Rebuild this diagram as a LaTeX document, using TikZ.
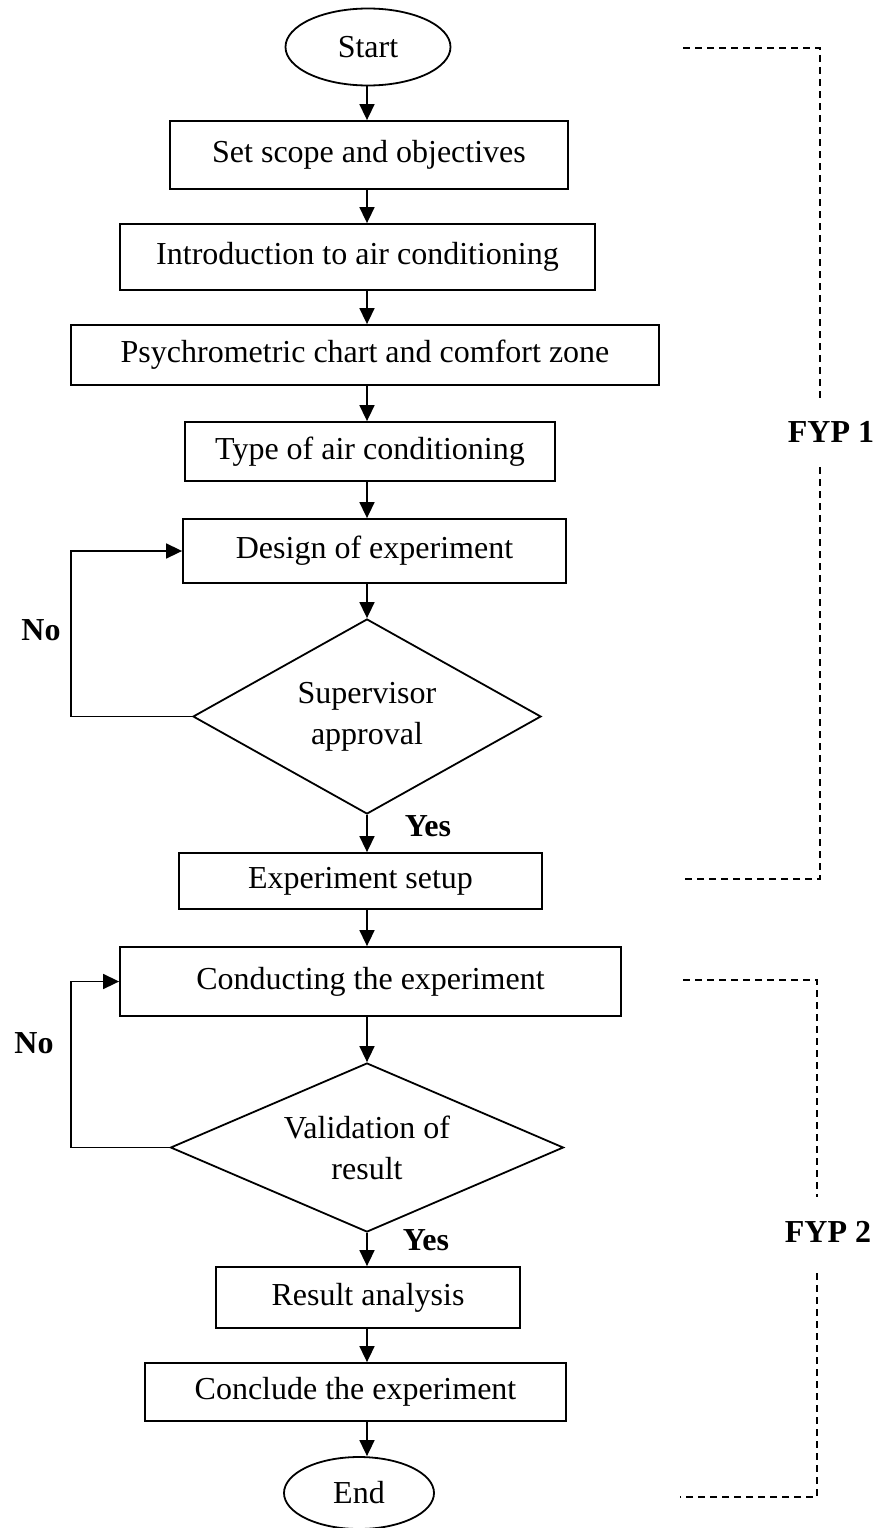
\documentclass[tikz,border=0pt]{standalone}
\usepackage{fontspec}
\setmainfont{Liberation Serif}
\usetikzlibrary{shapes.geometric,arrows.meta,calc}
\tikzset{
  txt/.style={font=\fontsize{32}{41}\selectfont, inner sep=0pt},
  box/.style={txt, draw, line width=1.8pt, rectangle, align=center},
  term/.style={txt, draw, line width=1.8pt, ellipse},
  decision/.style={txt, draw, line width=1.8pt, diamond, aspect=1.78, align=center},
  arr/.style={line width=1.6pt, -{Triangle[length=16pt,width=15pt]}},
  loopline/.style={line width=1.6pt, -{Triangle[length=16pt,width=15pt]}},
  lbl/.style={font=\fontsize{32}{41}\selectfont\bfseries, inner sep=0pt},
  bracket/.style={line width=1.5pt, dash pattern=on 7pt off 5pt}
}
\begin{document}
\begin{tikzpicture}[x=1pt,y=-1pt]
\useasboundingbox (0,0) rectangle (878,1528);
\fill[white] (0,0) rectangle (878,1528);
\coordinate (spine) at (367,0);
% nodes
\node[term, minimum width=165pt, minimum height=77pt] (start) at (368,47) {Start};
\node[box, minimum width=398pt, minimum height=68pt] (b1) at (369,155) {Set scope and objectives};
\node[box, minimum width=475pt, minimum height=66pt] (b2) at (357.5,257) {Introduction to air conditioning};
\node[box, minimum width=588pt, minimum height=60pt] (b3) at (365,355) {Psychrometric chart and comfort zone};
\node[box, minimum width=370pt, minimum height=59pt] (b4) at (370,451.5) {Type of air conditioning};
\node[box, minimum width=383pt, minimum height=64pt] (b5) at (374.5,551) {Design of experiment};
\node[decision, minimum width=348pt, minimum height=195pt] (d1) at (367,716.5) {Supervisor\\approval};
\node[box, minimum width=363pt, minimum height=56pt] (b6) at (360.5,881) {Experiment setup};
\node[box, minimum width=501pt, minimum height=69pt] (b7) at (370.5,981.5) {Conducting the experiment};
\node[decision, minimum width=393pt, minimum height=169pt] (d2) at (367,1147.5) {Validation of\\result};
\node[box, minimum width=304pt, minimum height=61pt] (b8) at (368,1297.5) {Result analysis};
\node[box, minimum width=421pt, minimum height=58pt] (b9) at (355.5,1392) {Conclude the experiment};
\node[term, minimum width=150pt, minimum height=72pt] (end) at (359,1493) {End};
% labels
\node[lbl] (no1) at (41,630) {No};
\node[lbl] (yes1) at (428,826) {Yes};
\node[lbl] (no2) at (34,1043) {No};
\node[lbl] (yes2) at (426,1240) {Yes};
\node[lbl] (fyp1) at (831,432) {FYP 1};
\node[lbl] (fyp2) at (828,1232) {FYP 2};
% main arrows
\draw[arr] (start.south -| spine) -- (b1.north -| spine);
\draw[arr] (b1.south -| spine) -- (b2.north -| spine);
\draw[arr] (b2.south -| spine) -- (b3.north -| spine);
\draw[arr] (b3.south -| spine) -- (b4.north -| spine);
\draw[arr] (b4.south -| spine) -- (b5.north -| spine);
\draw[arr] (b5.south -| spine) -- (d1.north);
\draw[arr] (d1.south) -- (b6.north -| spine);
\draw[arr] (b6.south -| spine) -- (b7.north -| spine);
\draw[arr] (b7.south -| spine) -- (d2.north);
\draw[arr] (d2.south) -- (b8.north -| spine);
\draw[arr] (b8.south -| spine) -- (b9.north -| spine);
\draw[arr] (b9.south -| spine) -- (end.north -| spine);
% loops
\coordinate (l1) at (71,718);
\coordinate (l2) at (71,1148);
\draw[loopline] (d1.west) -- (d1.west -| l1) |- (b5.west);
\draw[loopline] (d2.west) -- (d2.west -| l2) |- (b7.west);
% FYP brackets
\coordinate (f1a) at (683,48);
\coordinate (f1b) at (820,48);
\coordinate (f1c) at (820,398);
\coordinate (f1d) at (820,467);
\coordinate (f1e) at (820,879);
\coordinate (f1f) at (683,879);
\draw[bracket] (f1a) -- (f1b) -- (f1c);
\draw[bracket] (f1d) -- (f1e) -- (f1f);
\coordinate (f2a) at (683,980);
\coordinate (f2b) at (817,980);
\coordinate (f2c) at (817,1197);
\coordinate (f2d) at (817,1273);
\coordinate (f2e) at (817,1497);
\coordinate (f2f) at (680,1497);
\draw[bracket] (f2a) -- (f2b) -- (f2c);
\draw[bracket] (f2d) -- (f2e) -- (f2f);
\end{tikzpicture}
\end{document}
